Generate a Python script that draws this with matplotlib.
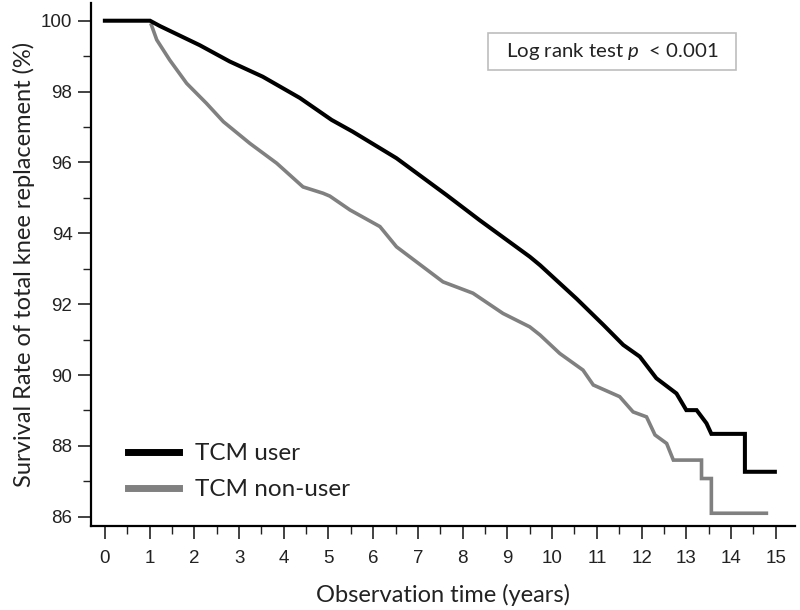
import matplotlib
matplotlib.use("Agg")
import matplotlib.pyplot as plt
from matplotlib.lines import Line2D
from matplotlib.patches import Rectangle
from matplotlib.ticker import MultipleLocator

plt.rcParams["mathtext.fontset"] = "custom"
plt.rcParams["mathtext.it"] = "Lato:italic"
plt.rcParams["mathtext.rm"] = "Lato"

# Kaplan-Meier curves (years, survival %)
user_years = [0, 1.01, 1.23, 2.12, 2.79, 3.53, 4.36, 5.07, 5.54, 6.52, 7.64, 8.38,
              9.50, 9.73, 10.55, 11.15, 11.59, 11.96, 12.33, 12.78, 13.00, 13.23,
              13.45, 13.56, 14.31, 14.31, 14.98]
user_surv = [100, 100, 99.85, 99.31, 98.85, 98.42, 97.82, 97.20, 96.87, 96.12, 95.08, 94.37,
             93.34, 93.10, 92.15, 91.41, 90.85, 90.52, 89.91, 89.48, 89.01, 89.01,
             88.64, 88.34, 88.34, 87.27, 87.27]

nonuser_years = [1.04, 1.16, 1.45, 1.83, 2.27, 2.65, 3.24, 3.84, 4.43, 4.88, 5.03, 5.48,
                 6.15, 6.52, 7.56, 8.23, 8.90, 9.50, 9.73, 10.17, 10.69, 10.92, 11.51,
                 11.81, 12.11, 12.30, 12.56, 12.71, 13.34, 13.34, 13.56, 13.56, 14.79]
nonuser_surv = [99.88, 99.46, 98.89, 98.23, 97.67, 97.15, 96.54, 95.98, 95.31, 95.13, 95.05, 94.66,
                94.19, 93.62, 92.63, 92.31, 91.74, 91.36, 91.13, 90.61, 90.14, 89.72, 89.39,
                88.96, 88.82, 88.31, 88.07, 87.60, 87.60, 87.08, 87.08, 86.10, 86.10]

series_labels = ["TCM user", "TCM non-user"]
x_ticks = list(range(0, 16))
y_ticks = [86, 88, 90, 92, 94, 96, 98, 100]

W, H = 800, 610
fig = plt.figure(figsize=(W / 100, H / 100), dpi=100)
ax = fig.add_axes([91 / W, 1 - 526 / H, (795 - 91) / W, (526 - 3) / H])

ax.plot(nonuser_years, nonuser_surv, color="#808080", lw=2.6, solid_joinstyle="miter")
ax.plot(user_years, user_surv, color="black", lw=2.9, solid_joinstyle="miter")

ax.set_xlim(-0.31, 15.43)
ax.set_ylim(85.74, 100.5)
ax.set_xticks(x_ticks)
ax.set_yticks(y_ticks)
ax.xaxis.set_minor_locator(MultipleLocator(0.5))
ax.yaxis.set_minor_locator(MultipleLocator(1))
for side in ("top", "right"):
    ax.spines[side].set_visible(False)
for side in ("left", "bottom"):
    ax.spines[side].set_linewidth(1.6)
ax.tick_params(which="major", length=9.4, width=1.2, pad=4, labelsize=13.5,
               labelfontfamily="Liberation Sans", color="#222222", labelcolor="#222222")
ax.tick_params(which="minor", length=5.5, width=1.0, color="#222222")
ax.tick_params(axis="x", which="major", pad=8)

ax.set_xlabel("Observation time (years)", fontsize=17, family="Lato", color="#222222", labelpad=12)
ax.set_ylabel("Survival Rate of total knee replacement (%)", fontsize=17, family="Lato",
              color="#222222", labelpad=4)

handles = [Line2D([], [], color="black", lw=5), Line2D([], [], color="#808080", lw=5)]
ax.legend(handles, series_labels, loc="upper left", bbox_to_anchor=(128 / W, 1 - 443 / H),
          bbox_transform=fig.transFigure, frameon=False, borderpad=0, borderaxespad=0,
          prop={"family": "Lato", "size": 17.5}, handlelength=2.1, handletextpad=0.65,
          labelspacing=0.62, labelcolor="#222222")

fig.patches.append(Rectangle((488 / W, 1 - 70 / H), (736 - 488) / W, (70 - 33) / H,
                             transform=fig.transFigure, fill=False, edgecolor="#bdbdbd", lw=1.2))
fig.text(612 / W, 1 - 52 / H, r"Log rank test $p$  < 0.001", ha="center", va="center",
         family="Lato", fontsize=14.7, color="#222222")

fig.savefig("out.png", dpi=100)
